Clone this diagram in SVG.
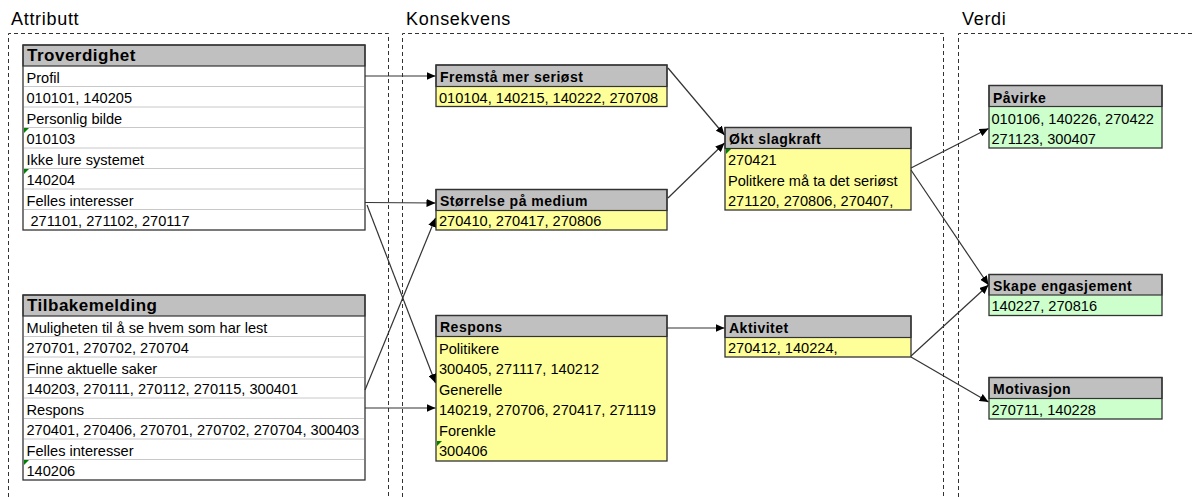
<svg xmlns="http://www.w3.org/2000/svg" width="1192" height="497" viewBox="0 0 1192 497">
<style>
text{font-family:"Liberation Sans",Arial,sans-serif;fill:#000}
.title{font-size:18px;letter-spacing:.7px}
.th{font-size:17px;font-weight:bold;letter-spacing:.5px}
.nh{font-size:14px;font-weight:bold;letter-spacing:.5px}
.t{font-size:14.6px}
.hdr{fill:#c0c0c0;stroke:#333;stroke-width:1.2}
.body{fill:#fff}
.y{fill:#ffff99}
.g{fill:#ccffcc}
.box{fill:none;stroke:#333;stroke-width:1.3}
.sep{stroke:#c8c8c8;stroke-width:1}
.panel{fill:none;stroke:#333;stroke-width:1;stroke-dasharray:4 3}
.con{fill:none;stroke:#333;stroke-width:1.2;marker-end:url(#arr)}
.cm{fill:#008000}
</style>
<defs>
<marker id="arr" markerUnits="userSpaceOnUse" markerWidth="10" markerHeight="8" refX="9" refY="4" orient="auto">
<path d="M0,0 L9,4 L0,8 z" fill="#000"/>
</marker>
</defs>
<rect width="1192" height="497" fill="#fff"/>

<g id="panels">
<path class="panel" d="M8.5,497 V33.5 H388.5 V497"/>
<path class="panel" d="M402.5,497 V33.5 H943.5 V497"/>
<path class="panel" d="M958.5,497 V33.5 H1192"/>
<text class="title" x="11" y="25">Attributt</text>
<text class="title" x="406" y="25">Konsekvens</text>
<text class="title" x="962" y="25">Verdi</text>
</g>

<g id="troverdighet">
<rect class="body" x="23" y="45" width="342" height="185"/>
<rect class="hdr" x="23" y="45" width="342" height="21"/>
<line class="sep" x1="24" y1="86.5" x2="364" y2="86.5"/>
<line class="sep" x1="24" y1="107" x2="364" y2="107"/>
<line class="sep" x1="24" y1="127.5" x2="364" y2="127.5"/>
<line class="sep" x1="24" y1="148" x2="364" y2="148"/>
<line class="sep" x1="24" y1="168.5" x2="364" y2="168.5"/>
<line class="sep" x1="24" y1="189" x2="364" y2="189"/>
<line class="sep" x1="24" y1="209.5" x2="364" y2="209.5"/>
<rect class="box" x="23" y="45" width="342" height="185"/>
<polygon class="cm" points="24,128 29,128 24,133"/>
<polygon class="cm" points="24,169 29,169 24,174"/>
<text class="th" x="27" y="61">Troverdighet</text>
<text class="t" x="26.5" y="82.5">Profil</text>
<text class="t" x="26.5" y="103">010101, 140205</text>
<text class="t" x="26.5" y="123.5">Personlig bilde</text>
<text class="t" x="26.5" y="144">010103</text>
<text class="t" x="26.5" y="164.5">Ikke lure systemet</text>
<text class="t" x="26.5" y="185">140204</text>
<text class="t" x="26.5" y="205.5">Felles interesser</text>
<text class="t" x="30.5" y="226">271101, 271102, 270117</text>
</g>

<g id="tilbakemelding">
<rect class="body" x="23" y="295" width="342" height="185"/>
<rect class="hdr" x="23" y="295" width="342" height="21"/>
<line class="sep" x1="24" y1="336.5" x2="364" y2="336.5"/>
<line class="sep" x1="24" y1="357" x2="364" y2="357"/>
<line class="sep" x1="24" y1="377.5" x2="364" y2="377.5"/>
<line class="sep" x1="24" y1="398" x2="364" y2="398"/>
<line class="sep" x1="24" y1="418.5" x2="364" y2="418.5"/>
<line class="sep" x1="24" y1="439" x2="364" y2="439"/>
<line class="sep" x1="24" y1="459.5" x2="364" y2="459.5"/>
<rect class="box" x="23" y="295" width="342" height="185"/>
<polygon class="cm" points="24,460 29,460 24,465"/>
<text class="th" x="27" y="311">Tilbakemelding</text>
<text class="t" x="26.5" y="332.5">Muligheten til å se hvem som har lest</text>
<text class="t" x="26.5" y="353">270701, 270702, 270704</text>
<text class="t" x="26.5" y="373.5">Finne aktuelle saker</text>
<text class="t" x="26.5" y="394">140203, 270111, 270112, 270115, 300401</text>
<text class="t" x="26.5" y="414.5">Respons</text>
<text class="t" x="26.5" y="435">270401, 270406, 270701, 270702, 270704, 300403</text>
<text class="t" x="26.5" y="455.5">Felles interesser</text>
<text class="t" x="26.5" y="476">140206</text>
</g>

<g id="fremsta">
<rect class="y" x="436" y="86.5" width="231" height="20"/>
<rect class="hdr" x="436" y="65" width="231" height="21.5"/>
<rect class="box" x="436" y="65" width="231" height="41.5"/>
<text class="nh" x="440" y="82">Fremstå mer seriøst</text>
<text class="t" x="439" y="102.5">010104, 140215, 140222, 270708</text>
</g>

<g id="storrelse">
<rect class="y" x="436" y="210.5" width="231" height="19.5"/>
<rect class="hdr" x="436" y="189.5" width="231" height="21"/>
<rect class="box" x="436" y="189.5" width="231" height="40.5"/>
<text class="nh" x="440" y="206">Størrelse på medium</text>
<text class="t" x="439" y="225.5">270410, 270417, 270806</text>
</g>

<g id="respons">
<rect class="y" x="436" y="336.5" width="231" height="124.5"/>
<rect class="hdr" x="436" y="315.5" width="231" height="21"/>
<rect class="box" x="436" y="315.5" width="231" height="145.5"/>
<polygon class="cm" points="437,441 442,441 437,446"/>
<text class="nh" x="440" y="331.5">Respons</text>
<text class="t" x="439" y="353.5">Politikere</text>
<text class="t" x="439" y="374">300405, 271117, 140212</text>
<text class="t" x="439" y="394.5">Generelle</text>
<text class="t" x="439" y="415">140219, 270706, 270417, 271119</text>
<text class="t" x="439" y="435.5">Forenkle</text>
<text class="t" x="439" y="456">300406</text>
</g>

<g id="okt-slagkraft">
<rect class="y" x="725" y="148.5" width="186" height="61.5"/>
<rect class="hdr" x="725" y="127.5" width="186" height="21"/>
<rect class="box" x="725" y="127.5" width="186" height="82.5"/>
<polygon class="cm" points="726,149 731,149 726,154"/>
<text class="nh" x="729" y="144">Økt slagkraft</text>
<text class="t" x="728" y="165">270421</text>
<text class="t" x="728" y="185.5">Politkere må ta det seriøst</text>
<text class="t" x="728" y="206">271120, 270806, 270407,</text>
</g>

<g id="aktivitet">
<rect class="y" x="725" y="337.5" width="186" height="19.5"/>
<rect class="hdr" x="725" y="316" width="186" height="21.5"/>
<rect class="box" x="725" y="316" width="186" height="41"/>
<text class="nh" x="729" y="332.5">Aktivitet</text>
<text class="t" x="728" y="353">270412, 140224,</text>
</g>

<g id="pavirke">
<rect class="g" x="989" y="106.5" width="173" height="41.5"/>
<rect class="hdr" x="989" y="85.5" width="173" height="21"/>
<rect class="box" x="989" y="85.5" width="173" height="62.5"/>
<text class="nh" x="993" y="102.5">Påvirke</text>
<text class="t" x="991.5" y="124">010106, 140226, 270422</text>
<text class="t" x="991.5" y="143.5">271123, 300407</text>
</g>

<g id="skape-engasjement">
<rect class="g" x="989" y="295" width="173" height="20.5"/>
<rect class="hdr" x="989" y="274.5" width="173" height="20.5"/>
<rect class="box" x="989" y="274.5" width="173" height="41"/>
<text class="nh" x="993" y="290.5">Skape engasjement</text>
<text class="t" x="991.5" y="311">140227, 270816</text>
</g>

<g id="motivasjon">
<rect class="g" x="989" y="398.5" width="173" height="20.5"/>
<rect class="hdr" x="989" y="377.5" width="173" height="21"/>
<rect class="box" x="989" y="377.5" width="173" height="41.5"/>
<text class="nh" x="993" y="394">Motivasjon</text>
<text class="t" x="991.5" y="415">270711, 140228</text>
</g>

<g id="connectors">
<line class="con" x1="365" y1="76" x2="435.5" y2="76"/>
<line class="con" x1="365" y1="202.5" x2="435.5" y2="203"/>
<line class="con" x1="367" y1="205" x2="435.5" y2="383"/>
<line class="con" x1="365" y1="390" x2="435.5" y2="218"/>
<line class="con" x1="365" y1="408" x2="435.5" y2="408"/>
<line class="con" x1="668" y1="68" x2="724.5" y2="135"/>
<line class="con" x1="668" y1="198" x2="724.5" y2="143"/>
<line class="con" x1="667" y1="328" x2="724.5" y2="328"/>
<line class="con" x1="911" y1="168" x2="988.5" y2="128.5"/>
<line class="con" x1="911" y1="170" x2="988.5" y2="285"/>
<line class="con" x1="911" y1="356" x2="988.5" y2="285"/>
<line class="con" x1="911" y1="357" x2="988.5" y2="402"/>
</g>
</svg>
